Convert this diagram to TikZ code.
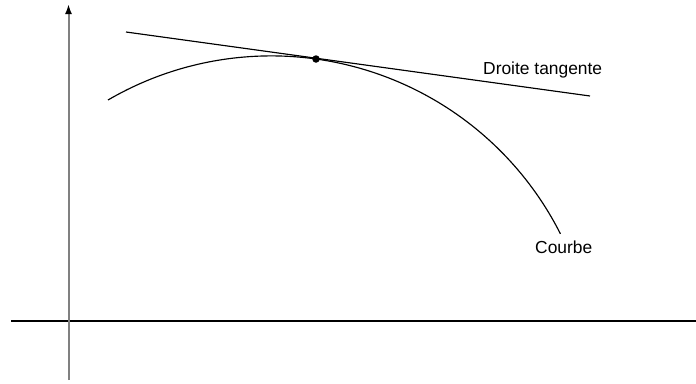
\documentclass[tikz,border=0pt]{standalone}
\usepackage{fontspec}
\setmainfont{Liberation Sans}
\usetikzlibrary{arrows.meta}
\begin{document}
\begin{tikzpicture}[x=1pt,y=-1pt,
  axisx/.style={line width=1.4pt,black},
  axisy/.style={line width=2pt,black!50,-{Latex[length=10pt,width=7pt,black]}},
  curveline/.style={line width=1.15pt,black},
  lbl/.style={font=\fontsize{17.4}{20}\selectfont,inner sep=0pt}]
\useasboundingbox (0,0) rectangle (696,383);
\coordinate (xa) at (11,321);
\coordinate (xb) at (696,321);
\coordinate (ya) at (68.5,380);
\coordinate (yb) at (68.5,4);
\draw[axisx] (xa) -- (xb);
\draw[axisy] (ya) -- (yb);
\coordinate (cstart) at (108,100);
\draw[curveline] (cstart) arc[start angle=-120.25,end angle=-26.8,radius=324];
\coordinate (ta) at (126,32);
\coordinate (tb) at (590,96);
\draw[curveline] (ta) -- (tb);
\node[circle,fill=black,inner sep=0pt,minimum size=7.5pt] (pt) at (316,59) {};
\node[lbl,anchor=base west] (tl) at (483,74) {Droite tangente};
\node[lbl,anchor=base west] (cl) at (535,253) {Courbe};
\end{tikzpicture}
\end{document}
